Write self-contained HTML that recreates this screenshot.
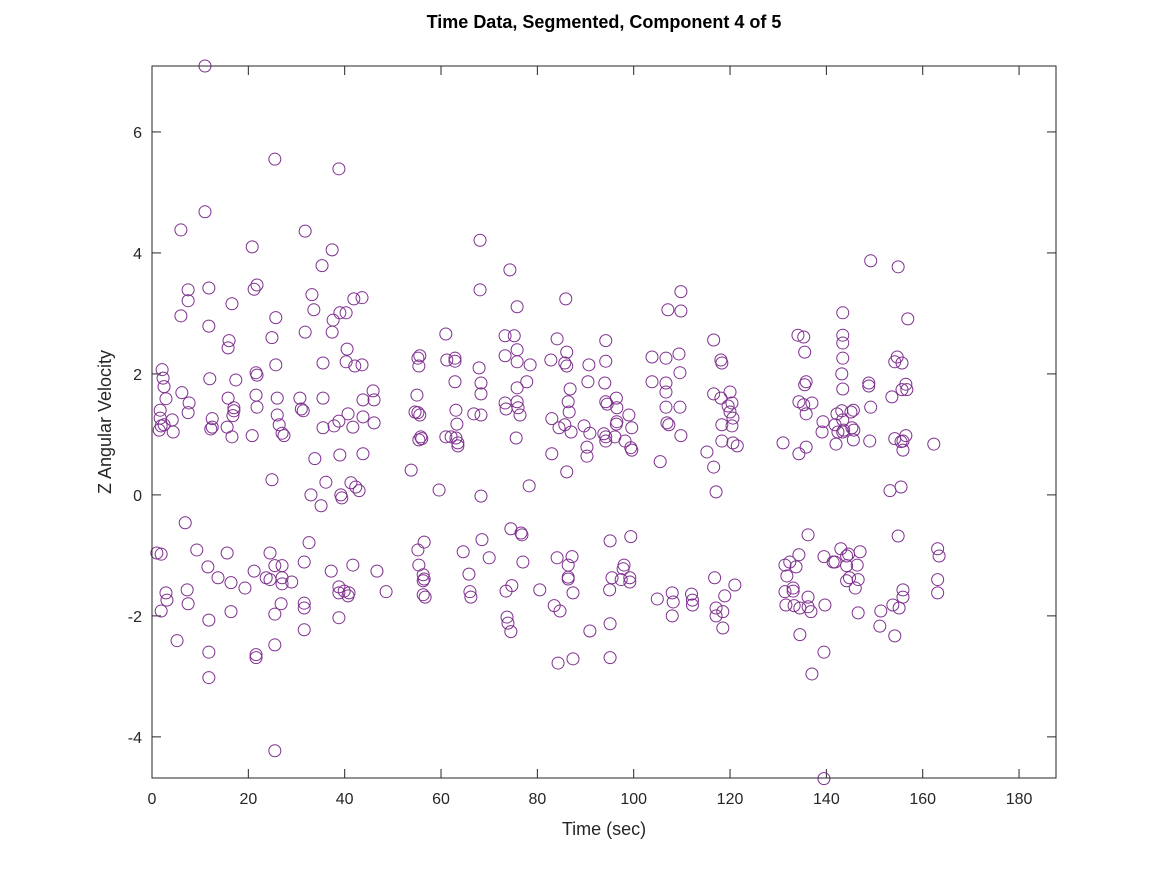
<!DOCTYPE html>
<html><head><meta charset="utf-8"><style>
html,body{margin:0;padding:0;background:#fff;}
svg{display:block;font-family:"Liberation Sans",Arial,sans-serif;}
</style></head><body>
<svg id="chart" width="1167" height="875" viewBox="0 0 1167 875">
<rect x="0" y="0" width="1167" height="875" fill="#fff"/>
<text x="604" y="28" text-anchor="middle" font-size="18" font-weight="bold" fill="#000">Time Data, Segmented, Component 4 of 5</text>
<g id="ticks"></g>
<g id="points"></g>
<rect x="152" y="66" width="904" height="712" fill="none" stroke="#262626" stroke-width="1"/>
<text x="604" y="835" text-anchor="middle" font-size="18" fill="#262626">Time (sec)</text>
<text transform="translate(111,422) rotate(-90)" text-anchor="middle" font-size="18" fill="#262626">Z Angular Velocity</text>
</svg>
<script>
const xTicks=[0,20,40,60,80,100,120,140,160,180];
const yTicks=[-4,-2,0,2,4,6];
const xs=[1.0,1.9,1.9,2.9,3.1,2.1,2.3,2.5,1.7,1.7,1.9,1.5,2.5,2.9,4.2,4.4,5.2,
6.0,6.0,6.2,6.9,7.5,7.5,7.7,7.5,7.3,7.5,9.3,
11,11,11.8,11.8,12.0,12.5,12.5,12.2,11.6,11.8,11.8,11.8,13.7,
15.6,15.8,15.6,16.0,15.8,16.4,16.4,16.6,16.8,17.0,17.0,16.6,17.4,19.3,20.8,
20.8,21.2,21.8,21.6,21.8,21.6,21.8,21.2,21.6,21.6,23.7,24.5,24.5,24.9,24.9,25.5,25.5,25.5,25.5,25.5,
25.7,25.7,26.0,26.0,26.4,27.0,27.0,26.8,27.0,27.4,27.0,29.0,
30.7,31.0,31.4,31.8,31.8,31.6,31.6,31.6,31.6,32.6,33.0,33.2,33.6,33.8,35.1,35.3,35.5,35.5,35.5,36.1,
37.2,37.4,37.6,37.4,37.8,38.8,39.0,38.8,39.0,38.8,38.8,38.8,39.2,39.4,
40.3,40.5,40.3,40.7,39.9,40.7,40.9,41.3,41.7,41.7,41.9,42.1,42.3,43.0,43.6,43.6,43.8,43.8,43.8,45.9,46.1,46.1,46.7,48.6,
53.8,54.6,55.0,55.2,55.4,55.2,55.2,55.4,55.4,55.6,55.6,55.8,56.0,56.3,56.3,56.3,56.5,56.5,56.7,59.6,
61.0,61.0,61.2,62.1,62.9,62.9,62.9,63.1,63.3,63.1,63.5,63.5,64.6,65.8,66.0,66.2,66.8,
67.9,68.1,68.1,68.3,68.3,68.3,68.5,68.3,70.0,
73.3,73.3,73.3,73.5,73.5,73.7,73.9,74.3,74.5,74.5,74.7,75.2,75.8,75.8,75.8,75.8,75.6,75.8,76.0,76.4,76.6,76.8,77.0,77.8,78.3,78.5,
80.5,82.8,83.0,83.0,83.5,84.1,84.1,84.3,84.5,84.7,85.7,85.7,85.9,86.1,86.1,86.4,86.1,86.4,86.4,86.4,86.6,86.8,87.0,87.2,87.4,87.4,
89.7,90.3,90.3,90.7,90.5,90.9,90.9,93.8,94.0,94.2,94.2,94.2,94.2,94.2,94.5,95.0,95.1,95.1,95.1,95.5,96.1,96.4,96.4,96.5,96.5,97.4,97.8,98.0,99.0,99.2,99.2,99.4,99.4,99.6,99.6,98.2,
103.8,103.8,104.9,105.5,106.7,106.7,106.7,106.7,106.9,107.1,107.3,108.0,108.2,108.0,109.4,109.6,109.6,109.8,109.8,109.8,112.0,112.2,112.2,115.2,116.6,116.6,116.6,117.1,116.8,117.1,117.1,118.1,118.3,118.1,118.3,118.3,118.5,118.5,118.9,119.6,120.0,120.0,120.4,120.6,120.4,120.6,121.5,121.0,
131,131.4,131.4,131.8,131.6,132.4,133.1,133.1,133.3,133.7,134.1,134.3,134.3,134.3,134.5,134.5,135.3,135.3,135.5,135.5,135.8,135.8,135.8,136.2,136.2,136.2,136.8,137.0,137.0,139.3,139.1,139.5,139.5,139.7,139.5,141.4,141.8,142.0,141.8,142.2,142.4,143.0,143.4,143.4,143.4,143.4,143.2,143.4,143.2,143.4,143.6,143.4,144.2,144.2,144.2,144.6,144.8,145.1,145.6,145.6,145.3,145.7,146.0,146.4,146.6,146.6,147.0,148.8,148.8,149.0,149.2,149.2,151.1,151.3,153.2,153.6,153.8,154.2,154.2,154.2,154.7,154.9,154.9,155.1,155.5,155.9,155.7,155.7,155.5,155.9,155.9,155.9,156.5,156.5,156.7,156.9,162.3,163.1,163.4,163.1,163.1];
const ys=[-0.96,-0.98,-1.92,-1.62,-1.74,2.07,1.93,1.79,1.40,1.27,1.14,1.07,1.16,1.59,1.24,1.04,-2.41,
4.38,2.96,1.69,-0.46,3.39,3.21,1.52,1.36,-1.57,-1.80,-0.91,
7.09,4.68,3.42,2.79,1.92,1.26,1.12,1.09,-1.19,-2.07,-2.60,-3.02,-1.37,
1.12,1.60,-0.96,2.55,2.43,-1.45,-1.93,3.16,1.31,1.39,1.44,0.96,1.90,-1.54,0.98,
4.10,3.40,3.47,2.02,1.98,1.65,1.45,-1.26,-2.64,-2.69,-1.37,-0.96,-1.40,0.25,2.60,5.55,-1.17,-1.97,-2.48,-4.23,
2.93,2.15,1.60,1.32,1.16,-1.17,-1.37,-1.80,1.02,0.98,-1.47,-1.44,
1.60,1.42,1.39,2.69,4.36,-1.11,-1.79,-1.87,-2.23,-0.79,0.0,3.31,3.06,0.60,-0.18,3.79,2.18,1.60,1.11,0.21,
-1.26,4.05,2.89,2.69,1.14,5.39,3.01,1.22,0.66,-1.52,-1.62,-2.03,0.0,-0.05,
3.01,2.41,2.20,1.34,-1.59,-1.67,-1.62,0.20,1.12,-1.16,3.24,2.13,0.13,0.07,3.26,2.15,1.57,0.68,1.29,1.72,1.57,1.19,-1.26,-1.60,
0.41,1.37,1.65,1.36,-1.16,-0.91,2.26,2.13,0.91,2.30,1.32,0.96,0.93,-1.32,-1.42,-1.65,-0.78,-1.39,-1.69,0.08,
0.96,2.66,2.23,0.96,2.26,2.21,1.87,1.40,1.17,0.94,0.86,0.81,-0.94,-1.31,-1.60,-1.69,1.34,
2.10,4.21,3.39,1.67,1.85,-0.02,-0.74,1.32,-1.04,
2.63,2.30,1.52,1.42,-1.59,-2.02,-2.12,3.72,-0.56,-2.26,-1.50,2.63,3.11,2.40,2.20,1.77,0.94,1.54,1.44,1.32,-0.63,-0.66,-1.11,1.87,0.15,2.15,
-1.57,2.23,1.26,0.68,-1.83,2.58,-1.04,-2.78,1.11,-1.92,1.16,2.18,3.24,2.13,2.36,1.54,0.38,-1.16,-1.36,-1.39,1.37,1.75,1.04,-1.02,-1.62,-2.71,
1.14,0.79,0.64,2.15,1.87,-2.25,1.02,1.01,1.85,2.55,2.21,0.96,0.89,1.54,1.50,-1.57,-0.76,-2.13,-2.69,-1.37,0.96,1.60,1.17,1.21,1.44,-1.40,-1.22,-1.16,1.32,-1.37,-1.44,-0.69,0.78,0.74,1.11,0.89,
2.28,1.87,-1.72,0.55,2.26,1.85,1.70,1.45,1.19,3.06,1.16,-1.62,-1.77,-2.0,2.33,2.02,1.45,3.04,3.36,0.98,-1.64,-1.74,-1.82,0.71,2.56,1.67,0.46,0.05,-1.37,-1.87,-2.0,2.23,2.18,1.60,1.16,0.89,-1.93,-2.20,-1.67,1.47,1.70,1.37,1.52,1.27,1.14,0.86,0.81,-1.49,
0.86,-1.16,-1.60,-1.34,-1.82,-1.11,-1.54,-1.59,-1.83,-1.19,2.64,0.68,1.54,-0.99,-1.87,-2.31,2.61,1.49,2.36,1.82,1.87,0.79,1.34,-0.66,-1.69,-1.85,-1.93,1.52,-2.96,1.21,1.04,-1.02,-2.60,-1.82,-4.69,-1.11,-1.11,0.84,1.16,1.34,1.04,-0.89,3.01,2.64,2.51,2.26,2.0,1.75,1.39,1.24,1.07,1.04,-1.01,-1.17,-1.42,-0.98,-1.37,1.37,1.40,0.91,1.11,1.07,-1.54,-1.16,-1.95,-1.40,-0.94,1.85,1.80,0.89,1.45,3.87,-2.17,-1.92,0.07,1.62,-1.82,-2.33,2.20,0.93,2.28,3.77,-0.68,-1.87,0.88,0.89,2.18,1.74,0.13,-1.57,-1.69,0.74,1.83,0.98,1.74,2.91,0.84,-0.89,-1.01,-1.40,-1.62];

const NS='http://www.w3.org/2000/svg';
const L=152,R=1056,T=66,B=778,XMIN=0,XMAX=187.67,YMIN=-4.68,YMAX=7.09;
function sx(v){return L+(v-XMIN)/(XMAX-XMIN)*(R-L);}
function sy(v){return B-(v-YMIN)/(YMAX-YMIN)*(B-T);}
function mk(tag,a){const e=document.createElementNS(NS,tag);for(const k in a)e.setAttribute(k,a[k]);return e;}
const tg=document.getElementById('ticks');
xTicks.forEach(v=>{const x=sx(v);
 const t1=mk('line',{x1:x,x2:x,y1:B,y2:B-9,stroke:'#262626'});
 
 
 tg.appendChild(t1);
 const t2=mk('line',{x1:x,x2:x,y1:T,y2:T+9,stroke:'#262626'});
 
 
 tg.appendChild(t2);
 const tx=mk('text',{x:x,y:B+26,'text-anchor':'middle','font-size':'16',fill:'#262626'});
 tx.textContent=v;
 
 
 tg.appendChild(tx);});
yTicks.forEach(v=>{const y=sy(v);
 const t1=mk('line',{x1:L,x2:L+9,y1:y,y2:y,stroke:'#262626'});
 
 
 tg.appendChild(t1);
 const t2=mk('line',{x1:R,x2:R-9,y1:y,y2:y,stroke:'#262626'});
 
 
 tg.appendChild(t2);
 const tx=mk('text',{x:L-10,y:y+6,'text-anchor':'end','font-size':'16',fill:'#262626'});
 tx.textContent=v;
 
 
 tg.appendChild(tx);});
const pg=document.getElementById('points');
for(let i=0;i<xs.length&&i<ys.length;i++){
 const c=mk('circle',{cx:sx(xs[i]),cy:sy(ys[i]),r:6,fill:'none',stroke:'#7E2F8E','stroke-width':1});
 
 
 pg.appendChild(c);
}
</script>
</body></html>
